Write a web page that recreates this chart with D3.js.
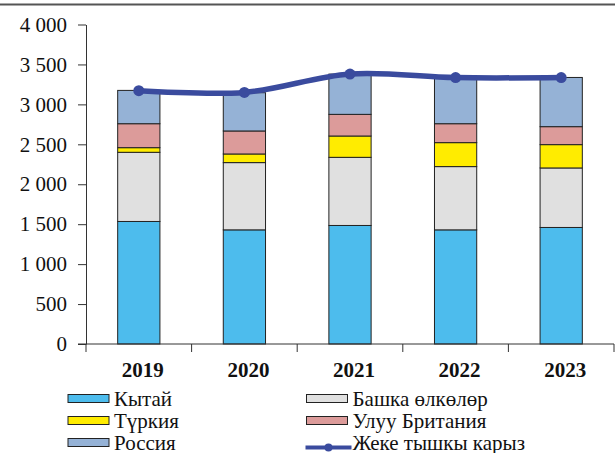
<!DOCTYPE html>
<html>
<head>
<meta charset="utf-8">
<script src="https://cdn.jsdelivr.net/npm/d3@7"></script>
<style>
  body { margin: 0; background: #fff; }
  svg, svg text { font-family: "Liberation Serif", "Times New Roman", Tinos, "DejaVu Serif", serif !important; }
</style>
</head>
<body>
<script>
var width = 615;
var height = 453;

var years = ["2019", "2020", "2021", "2022", "2023"];
var china = [1534, 1429, 1484, 1429, 1459];
var other = [866, 842, 853, 792, 745];
var turkey = [58, 108, 267, 300, 292];
var uk = [300, 288, 271, 237, 225];
var russia = [417, 479, 504, 571, 616];
var debt = [3172, 3150, 3380, 3335, 3336];
var yTicks = [0, 500, 1000, 1500, 2000, 2500, 3000, 3500, 4000];

var series = [
  { name: "Кытай", values: china, color: "#4dbced" },
  { name: "Башка өлкөлөр", values: other, color: "#e0e0e0" },
  { name: "Түркия", values: turkey, color: "#ffec00" },
  { name: "Улуу Британия", values: uk, color: "#dc9b9a" },
  { name: "Россия", values: russia, color: "#95b2d6" }
];
var lineName = "Жеке тышкы карыз";
var lineColor = "#3a4b9e";

var svg = d3.select("body")
    .append("svg")
    .attr("width", width)
    .attr("height", height);

// top rule
svg.append("line")
    .attr("x1", 0).attr("x2", width)
    .attr("y1", 4.5).attr("y2", 4.5)
    .attr("stroke", "#555").attr("stroke-width", 2);

var x = d3.scaleBand().domain(years).range([86, 614]).padding(0);
var y = d3.scaleLinear().domain([0, 4000]).range([344, 24.5]);
var barW = x.bandwidth() * 0.4;

// stacked data
var table = years.map(function (yr, i) {
    var row = { year: yr };
    series.forEach(function (s) { row[s.name] = s.values[i]; });
    return row;
});
var stacked = d3.stack().keys(series.map(function (s) { return s.name; }))(table);

svg.selectAll("g.layer")
    .data(stacked)
    .enter()
    .append("g")
    .attr("class", "layer")
    .attr("fill", function (d, i) { return series[i].color; })
    .selectAll("rect")
    .data(function (d) { return d; })
    .enter()
    .append("rect")
    .attr("x", function (d) { return x(d.data.year) + x.bandwidth() / 2 - barW / 2; })
    .attr("y", function (d) { return y(d[1]); })
    .attr("width", barW)
    .attr("height", function (d) { return y(d[0]) - y(d[1]); })
    .attr("stroke", "#222")
    .attr("stroke-width", 1);

// y axis
var yAxis = d3.axisLeft(y)
    .tickValues(yTicks)
    .tickSize(8)
    .tickSizeOuter(0)
    .tickPadding(11)
    .tickFormat(function (d) { return d3.format(",")(d).replace(/,/g, " "); });
var gy = svg.append("g").attr("transform", "translate(86,0)").call(yAxis);
gy.attr("font-family", null);
gy.select(".domain").attr("stroke", "#333");
gy.selectAll(".tick line").attr("stroke", "#333");
gy.selectAll(".tick text")
    .attr("font-size", 21)
    .attr("fill", "#111");

// x axis
var bounds = years.map(function (d) { return x(d); }).concat([x.range()[1]]);
svg.append("line")
    .attr("x1", 78).attr("x2", x.range()[1])
    .attr("y1", y(0)).attr("y2", y(0))
    .attr("stroke", "#333");
svg.selectAll("line.xtick")
    .data(bounds)
    .enter()
    .append("line")
    .attr("class", "xtick")
    .attr("x1", function (d) { return d; })
    .attr("x2", function (d) { return d; })
    .attr("y1", y(0))
    .attr("y2", y(0) + 8)
    .attr("stroke", "#333");
svg.selectAll("text.xlab")
    .data(years)
    .enter()
    .append("text")
    .attr("class", "xlab")
    .attr("x", function (d) { return x(d) + x.bandwidth() / 2 + 4; })
    .attr("y", 377)
    .attr("text-anchor", "middle")
    .attr("font-size", 21)
    .attr("font-weight", "bold")
    .attr("fill", "#111")
    .text(function (d) { return d; });

// debt line
var line = d3.line()
    .x(function (d, i) { return x(years[i]) + x.bandwidth() / 2; })
    .y(function (d) { return y(d); })
    .curve(d3.curveCardinal.tension(0));
svg.append("path")
    .datum(debt)
    .attr("d", line)
    .attr("fill", "none")
    .attr("stroke", lineColor)
    .attr("stroke-width", 5.5);
svg.selectAll("circle.pt")
    .data(debt)
    .enter()
    .append("circle")
    .attr("class", "pt")
    .attr("cx", function (d, i) { return x(years[i]) + x.bandwidth() / 2; })
    .attr("cy", function (d) { return y(d); })
    .attr("r", 5.5)
    .attr("fill", lineColor);

// legend
var legendItems = [
    { s: series[0], col: 0, row: 0 },
    { s: series[1], col: 1, row: 0 },
    { s: series[2], col: 0, row: 1 },
    { s: series[3], col: 1, row: 1 },
    { s: series[4], col: 0, row: 2 }
];
var colX = [68, 306.5];
var rowY = [398.5, 420.5, 442.5];
var lg = svg.append("g");
legendItems.forEach(function (it) {
    lg.append("rect")
        .attr("x", colX[it.col])
        .attr("y", rowY[it.row] - 4)
        .attr("width", 41)
        .attr("height", 8)
        .attr("fill", it.s.color)
        .attr("stroke", "#222")
        .attr("stroke-width", 1);
    lg.append("text")
        .attr("x", colX[it.col] + 46)
        .attr("y", rowY[it.row] + 7)
        .attr("font-size", 21)
        .attr("fill", "#111")
        .text(it.s.name);
});
lg.append("line")
    .attr("x1", colX[1] - 1).attr("x2", colX[1] + 45)
    .attr("y1", rowY[2] + 5).attr("y2", rowY[2] + 5)
    .attr("stroke", lineColor).attr("stroke-width", 4);
lg.append("circle")
    .attr("cx", colX[1] + 22).attr("cy", rowY[2] + 5)
    .attr("r", 4).attr("fill", lineColor);
lg.append("text")
    .attr("x", colX[1] + 46)
    .attr("y", rowY[2] + 7)
    .attr("font-size", 21)
    .attr("fill", "#111")
    .text(lineName);
</script>
</body>
</html>
